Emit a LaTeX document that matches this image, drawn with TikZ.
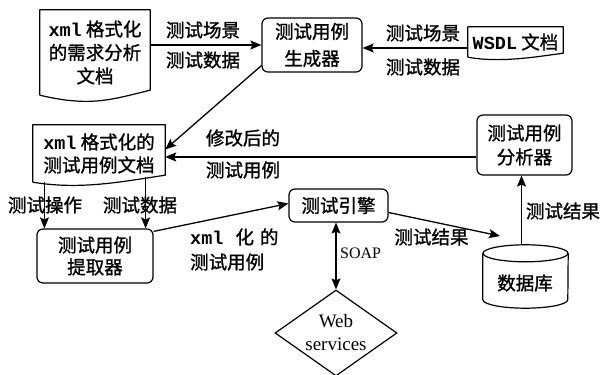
\documentclass[tikz,border=0pt]{standalone}
\usepackage{fontspec}
\setmainfont{Noto Sans CJK SC}[FakeBold=1.2]
\newfontfamily\xmlf{Liberation Mono}
\newfontfamily\serf{Liberation Serif}
\usetikzlibrary{arrows.meta,shapes.geometric,calc}
\begin{document}
\begin{tikzpicture}[x=1pt,y=1pt,
  every node/.style={font=\fontsize{18.5}{24}\selectfont},
  box/.style={draw, rounded corners=6pt, line width=1.2pt, align=center, inner sep=0pt},
  docbody/.style={inner sep=0pt, align=center},
  docline/.style={line width=1.2pt, line join=round},
  arr/.style={line width=1.3pt, -{Stealth[length=11pt,width=9pt,inset=2pt]}},
  dblarr/.style={line width=1.3pt, {Stealth[length=11pt,width=9pt,inset=2pt]}-{Stealth[length=11pt,width=9pt,inset=2pt]}},
  lbl/.style={inner sep=0pt}]
\useasboundingbox (0,0) rectangle (603,375);

% boxes
\node[box, minimum width=100pt, minimum height=54pt, font=\fontsize{18.5}{27}\selectfont] (gen) at (312,330) {测试用例\\生成器};
\node[box, minimum width=95pt, minimum height=60pt] (ana) at (524.5,230) {测试用例\\分析器};
\node[box, minimum width=116pt, minimum height=54pt, font=\fontsize{18.5}{22}\selectfont] (ext) at (95,119) {测试用例\\提取器};
\node[box, minimum width=99pt, minimum height=33pt] (eng) at (338.5,169.5) {测试引擎};

% documents
\node[docbody, minimum width=110pt, minimum height=85pt, font=\fontsize{18.5}{23.5}\selectfont] (doc1) at (95,322.5) {{\xmlf\bfseries xml} 格式化\\的需求分析\\文档};
\draw[docline] (doc1.south west) -- (doc1.north west) -- (doc1.north east) -- ([yshift=5pt]doc1.south east)
  .. controls (110,275) and (90,268) .. (doc1.south west);

\node[docbody, minimum width=132pt, minimum height=57pt, font=\fontsize{18.5}{23}\selectfont] (doc2) at (99,221.5) {{\xmlf\bfseries xml} 格式化的\\测试用例文档};
\draw[docline] (doc2.south west) -- (doc2.north west) -- (doc2.north east) -- ([yshift=7pt]doc2.south east)
  .. controls (120,193) and (80,185) .. (doc2.south west);

\node[docbody, minimum width=95pt, minimum height=30pt] (wsdl) at (515.5,333) {{\xmlf\bfseries WSDL} 文档};
\draw[docline] (wsdl.south west) -- (wsdl.north west) -- (wsdl.north east) -- ([yshift=4pt]wsdl.south east)
  .. controls (535,318) and (500,312) .. (wsdl.south west);

% database
\node[inner sep=0pt, minimum width=85pt, minimum height=63pt] (db) at (525.5,98.5) {};
\draw[line width=1.2pt] ([yshift=-8.5pt]db.north west) -- ([yshift=8.5pt]db.south west)
  arc[start angle=180, end angle=360, x radius=42.5pt, y radius=8.5pt] -- ([yshift=-8.5pt]db.north east);
\draw[line width=1.2pt] ([yshift=-8.5pt]db.north) ellipse[x radius=42.5pt, y radius=8.5pt];
\node[lbl] (dbt) at (525,92) {数据库};

% web services
\node[diamond, draw, line width=1.2pt, minimum width=122pt, minimum height=86pt, inner sep=0pt, aspect=1.42, align=center, font=\serf\fontsize{19}{23}\selectfont] (ws) at (336,42) {Web\\services};

% labels
\node[lbl] (l1) at (203,345) {测试场景};
\node[lbl] (l2) at (203,315) {测试数据};
\node[lbl] (l3) at (423,342) {测试场景};
\node[lbl] (l4) at (423,308) {测试数据};
\node[lbl] (l5) at (243,237) {修改后的};
\node[lbl] (l6) at (243,205) {测试用例};
\node[lbl] (l7) at (45,170) {测试操作};
\node[lbl] (l8) at (140,170) {测试数据};
\node[lbl, anchor=west, align=left, font=\fontsize{18.5}{25}\selectfont] (l9) at (190,125.5) {{\xmlf\bfseries xml}\hspace{12pt}化\hspace{6pt}的\\测试用例};
\node[lbl, anchor=west, font=\serf\fontsize{16}{18}\selectfont] (l10) at (340,122) {SOAP};
\node[lbl] (l11) at (431.5,138) {测试结果};
\node[lbl] (l12) at (563,164) {测试结果};

% connectors
\coordinate (dbin) at (500,139);
\draw[arr] (gen.west -| doc1.east) -- (gen.west);
\draw[arr] ([yshift=-6pt]wsdl.west) -- ([yshift=-6pt]wsdl.west -| gen.east);
\draw[arr] ([yshift=7pt]gen.south west) -- ([yshift=4pt]doc2.east);
\draw[arr] ([yshift=-12pt]ana.west) -- ([yshift=-12pt]ana.west -| doc2.east);
\draw[arr] ([xshift=8pt]ext.north west |- doc2.south) -- ([xshift=8pt]ext.north west);
\draw[arr] ($(ext.north east |- doc2.south)+(-8,5)$) -- ([xshift=-8pt]ext.north east);
\draw[arr] ([yshift=-3pt]ext.north east) -- ([yshift=2pt]eng.west);
\draw[dblarr] (eng.south -| ws.north) -- (ws.north);
\draw[arr] ([yshift=-7pt]eng.east) -- (dbin);
\draw[arr] ([xshift=-4pt]db.north) -- ([xshift=-4pt]db.north |- ana.south);
\end{tikzpicture}
\end{document}
